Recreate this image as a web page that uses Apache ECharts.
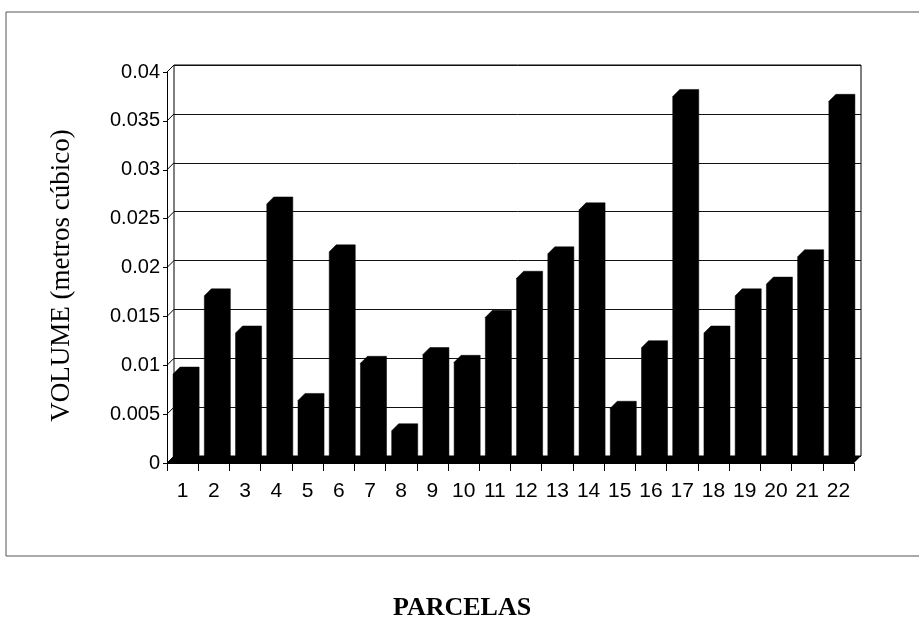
<!DOCTYPE html>
<html>
<head>
<meta charset="utf-8">
<script src="https://cdn.jsdelivr.net/npm/echarts@6/dist/echarts.min.js"></script>
<style>html,body{margin:0;padding:0;background:#fff;}#c{width:919px;height:620px;}</style>
</head>
<body>
<div id="c"></div>
<script>
const categories = ['1','2','3','4','5','6','7','8','9','10','11','12','13','14','15','16','17','18','19','20','21','22'];
const volumes = [0.0091,0.0171,0.0133,0.0265,0.0064,0.0216,0.0102,0.0033,0.0111,0.0103,0.0149,0.0189,0.0214,0.0259,0.0056,0.0118,0.0375,0.0133,0.0171,0.0183,0.0211,0.0370];
const yTicks = [0,0.005,0.01,0.015,0.02,0.025,0.03,0.035,0.04];
const yTitle = 'VOLUME (metros cúbico)';
const xTitle = 'PARCELAS';

const DEPTH = 7;
const Y_MIN = 0, Y_MAX = 0.04, Y_STEP = 0.005;

const chart = echarts.init(document.getElementById('c'), null, {renderer: 'canvas'});

function renderBar(params, api) {
  const i = api.value(0), v = api.value(1);
  const top = api.coord([i, v]);
  const base = api.coord([i, 0]);
  const slot = api.size([1, 0])[0];
  const w = slot * 0.61;
  const x0 = top[0] - w / 2, x1 = top[0] + w / 2;
  const d = DEPTH;
  return {
    type: 'polygon',
    shape: { points: [[x0, base[1]], [x0, top[1]], [x0 + d, top[1] - d], [x1 + d, top[1] - d], [x1 + d, base[1] - d], [x1, base[1]]] },
    style: { fill: '#000', stroke: '#000', lineWidth: 0.5 }
  };
}
function renderFloor(params, api) {
  const cs = params.coordSys;
  const yb = cs.y + cs.height, d = DEPTH;
  return {
    type: 'polygon',
    shape: { points: [[cs.x, yb], [cs.x + cs.width, yb], [cs.x + cs.width + d, yb - d], [cs.x + d, yb - d]] },
    style: { fill: '#000' }
  };
}
function renderSide(params, api) {
  const cs = params.coordSys;
  const p = api.coord([0, api.value(0)]);
  const d = DEPTH;
  return {
    type: 'line',
    shape: { x1: cs.x, y1: p[1], x2: cs.x + d, y2: p[1] - d },
    style: { stroke: '#000', lineWidth: 1 }
  };
}

const sans = 'Liberation Sans';

chart.setOption({
  animation: false,
  backgroundColor: '#fff',
  title: {
    text: xTitle, left: 393, top: 595, padding: 0,
    textStyle: { fontFamily: 'Liberation Serif', fontWeight: 'bold', fontSize: 26, color: '#000' }
  },
  graphic: [{
    type: 'rect', shape: { x: 6, y: 12, width: 940, height: 544 },
    style: { fill: 'none', stroke: '#555', lineWidth: 1 }, silent: true, z: -1
  }],
  grid: [
    { left: 174, top: 65, width: 687, height: 391, show: true, borderColor: '#000', borderWidth: 1, backgroundColor: 'transparent' },
    { left: 167, top: 72, width: 687, height: 391 }
  ],
  xAxis: [
    { type: 'category', gridIndex: 0, data: categories, show: false },
    {
      type: 'category', gridIndex: 1, data: categories,
      axisLine: { show: true, lineStyle: { color: '#000', width: 1 } },
      axisTick: { show: true, length: 8, lineStyle: { color: '#000' } },
      axisLabel: { margin: 18, interval: 0, fontFamily: sans, fontSize: 21, color: '#000' }
    }
  ],
  yAxis: [
    {
      type: 'value', gridIndex: 0, min: Y_MIN, max: Y_MAX, interval: Y_STEP,
      axisLine: { show: false }, axisTick: { show: false }, axisLabel: { show: false },
      splitLine: { show: true, lineStyle: { color: '#111', width: 1 } }
    },
    {
      type: 'value', gridIndex: 1, min: Y_MIN, max: Y_MAX, interval: Y_STEP,
      axisLine: { show: true, lineStyle: { color: '#000', width: 1 } },
      axisTick: { show: true, length: 4, lineStyle: { color: '#000' } },
      axisLabel: { margin: 7, formatter: v => String(+v.toFixed(3)), fontFamily: sans, fontSize: 20, color: '#000' },
      splitLine: { show: false },
      name: yTitle, nameLocation: 'middle', nameRotate: 90, nameGap: 92,
      nameTextStyle: { fontFamily: 'Liberation Serif', fontSize: 27, color: '#000', padding: [0, 16, 0, 0] }
    }
  ],
  series: [
    { type: 'custom', xAxisIndex: 1, yAxisIndex: 1, data: yTicks.map(t => [t]), renderItem: renderSide, clip: false, silent: true, z: 3 },
    { type: 'custom', xAxisIndex: 1, yAxisIndex: 1, data: [[0]], renderItem: renderFloor, clip: false, silent: true, z: 4 },
    { type: 'custom', xAxisIndex: 1, yAxisIndex: 1, data: volumes.map((v, i) => [i, v]), renderItem: renderBar, clip: false, z: 5 }
  ]
});
</script>
</body>
</html>
